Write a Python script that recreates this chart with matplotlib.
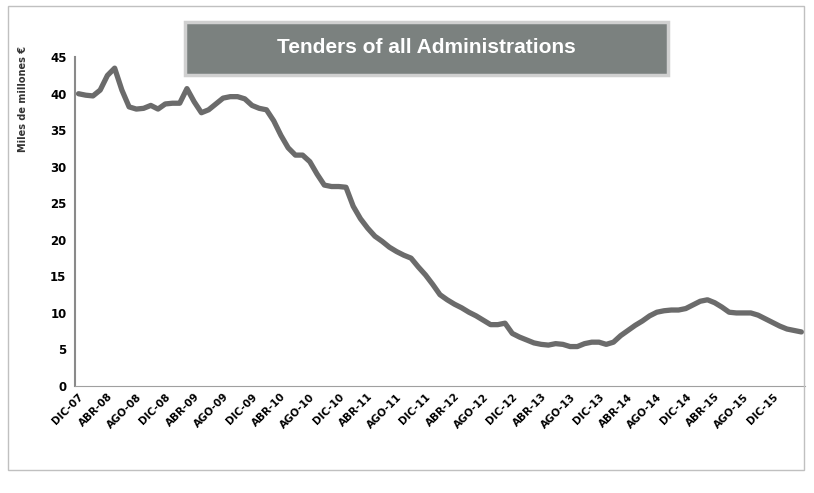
import numpy as np
import matplotlib
matplotlib.use('Agg')
import matplotlib.pyplot as plt
from matplotlib.patches import Rectangle

# licitacion mensual (media movil 12 meses), miles de millones
valores = [40.0, 39.8, 39.7, 40.5, 42.5, 43.5, 40.5, 38.2, 37.9, 38.0,
           38.4, 37.9, 38.6, 38.7, 38.7, 40.7, 38.9, 37.4, 37.8, 38.6,
           39.4, 39.6, 39.6, 39.3, 38.4, 38.0, 37.8, 36.3, 34.3, 32.6,
           31.6, 31.6, 30.7, 29.0, 27.5, 27.3, 27.3, 27.2, 24.6, 22.9,
           21.6, 20.5, 19.8, 19.0, 18.4, 17.9, 17.5, 16.3, 15.2, 13.9,
           12.5, 11.8, 11.2, 10.7, 10.1, 9.6, 9.0, 8.4, 8.4, 8.6,
           7.2, 6.7, 6.3, 5.9, 5.7, 5.6, 5.8, 5.7, 5.4, 5.4,
           5.8, 6.0, 6.0, 5.7, 6.0, 6.9, 7.6, 8.3, 8.9, 9.6,
           10.1, 10.3, 10.4, 10.4, 10.6, 11.1, 11.6, 11.8, 11.4, 10.8,
           10.1, 10.0, 10.0, 10.0, 9.7, 9.2, 8.7, 8.2, 7.8, 7.6, 7.4]

etiquetas = ['DIC-07', 'ABR-08', 'AGO-08', 'DIC-08', 'ABR-09', 'AGO-09',
             'DIC-09', 'ABR-10', 'AGO-10', 'DIC-10', 'ABR-11', 'AGO-11',
             'DIC-11', 'ABR-12', 'AGO-12', 'DIC-12', 'ABR-13', 'AGO-13',
             'DIC-13', 'ABR-14', 'AGO-14', 'DIC-14', 'ABR-15', 'AGO-15',
             'DIC-15']
paso = 4   # meses entre etiquetas

titulo = 'Tenders of all Administrations'
eje_y = 'Miles de millones €'

meses = np.arange(len(valores))

fig = plt.figure(figsize=(8.14, 4.93), dpi=100)
ax = fig.add_axes([0.092, 0.217, 0.897, 0.667])

ax.plot(meses, valores, color='#6b6b6b', lw=3.8, solid_joinstyle='round',
        solid_capstyle='round')

ax.set_xlim(-0.5, len(valores) - 0.5)
ax.set_ylim(0, 45)
ax.set_yticks(range(0, 46, 5))
ax.set_xticks(meses[::paso][:len(etiquetas)])
ax.set_xticklabels(etiquetas, rotation=45, ha='right', rotation_mode='anchor',
                   fontsize=7.5, fontweight='bold')
for t in ax.get_yticklabels():
    t.set_fontweight('bold')
    t.set_fontsize(8.5)
ax.tick_params(axis='both', length=0, pad=6)
ax.tick_params(axis='x', pad=4)

ax.spines['top'].set_visible(False)
ax.spines['right'].set_visible(False)
ax.spines['left'].set_color('#8a8a8a')
ax.spines['bottom'].set_color('#a0a0a0')
ax.spines['left'].set_linewidth(1.5)

# caja del titulo
fig.patches.append(Rectangle((0.227, 0.848), 0.594, 0.107, transform=fig.transFigure,
                             facecolor='#7b817f', edgecolor='#d0d0d0', lw=2.5))
fig.text(0.524, 0.903, titulo, color='white', fontsize=15, fontweight='bold',
         family='Liberation Sans', ha='center', va='center')

# marco exterior
fig.patches.append(Rectangle((0.01, 0.047), 0.978, 0.94, transform=fig.transFigure,
                             facecolor='none', edgecolor='#c0c0c0', lw=1))

fig.text(0.028, 0.80, eje_y, rotation=90, fontsize=7, fontweight='bold',
         ha='center', va='center', color='#333333')

fig.savefig('out.png', dpi=100)
